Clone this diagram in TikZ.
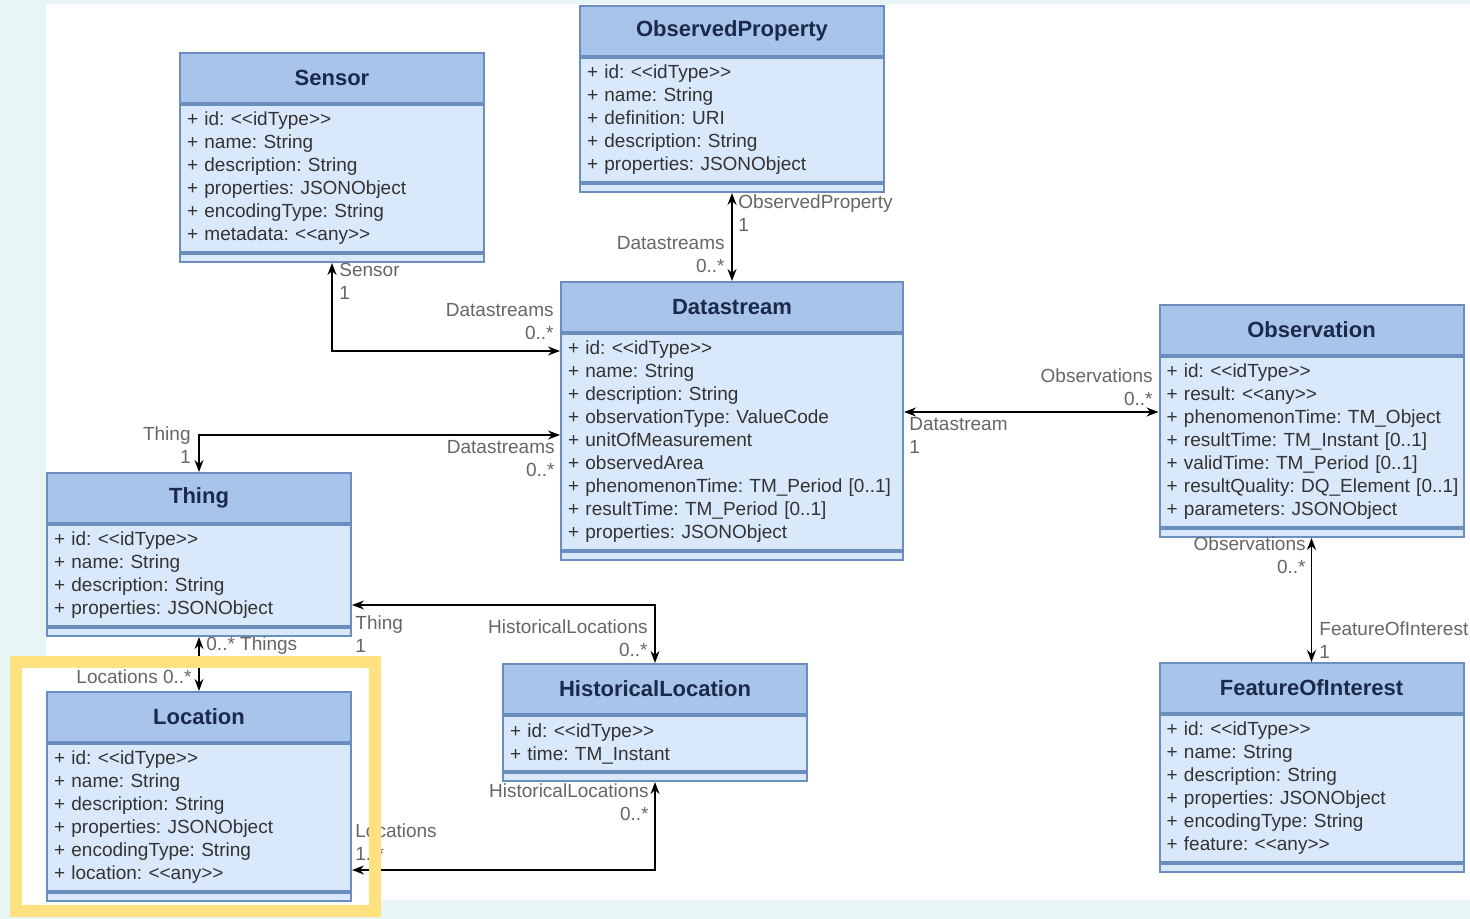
\documentclass[tikz,border=0pt]{standalone}
\usepackage{fontspec}
\setmainfont{Liberation Sans}
\frenchspacing
\usetikzlibrary{positioning}
\usetikzlibrary {arrows.meta}
\definecolor{pagecyan}{HTML}{E8F5F6}
\definecolor{headblue}{HTML}{A9C4EB}
\definecolor{bodyblue}{HTML}{DAE8FC}
\definecolor{lineblue}{HTML}{6C8EBF}
\definecolor{titlenavy}{HTML}{1B2A4A}
\definecolor{attrgray}{HTML}{333333}
\definecolor{labelgray}{HTML}{666666}
\definecolor{markyellow}{HTML}{FFE17F}
\newcommand\ltlt{<\kern0pt<}
\newcommand\gtgt{>\kern0pt>}
\tikzset{umlhead/.style={rectangle,draw=lineblue,fill=headblue,line width=1pt,
inner sep=0pt,minimum height=25pt, minimum width=152pt,text=titlenavy,
font=\fontsize{11}{13}\selectfont\bfseries}}
\tikzset{umlbody/.style={rectangle,draw=lineblue,fill=bodyblue,line width=1pt,
inner xsep=3.5pt,inner ysep=2pt,text width=145pt,align=left,text=attrgray,
minimum height={#1*11.5pt+4.5pt},font=\fontsize{9.5}{11.5}\selectfont}}
\tikzset{umlfoot/.style={rectangle,draw=lineblue,fill=bodyblue,line width=1pt,
inner sep=0pt,minimum height=4pt, minimum width=152pt}}
\tikzset{wide/.style={minimum width=171pt}}
\tikzset{widebody/.style={text width=164pt}}
\tikzset{lbl/.style={inner sep=0pt,text=labelgray,font=\fontsize{9.5}{11.5}\selectfont}}
\tikzset{assoc/.style={line width=0.75pt,{Stealth[length=6pt,width=4.5pt]}-{Stealth[length=6pt,width=4.5pt]}}}

\begin{document}
\begin{tikzpicture}[x=0.5pt,y=-0.5pt]
        \useasboundingbox (0,0) rectangle (1470,919);
        \fill[pagecyan] (0,0) rectangle (1470,919);
        \fill[white] (46,4) rectangle (1470,900);
        \fill[white] (10,656) rectangle (381,917);

        % classes
        \node[umlhead,anchor=north] (sensorHead) at (332,52) {Sensor};
        \node[umlbody=6] (sensorBody) [below=0pt of sensorHead] {+ id: \ltlt idType\gtgt\\+ name: String\\+ description: String\\+ properties: JSONObject\\+ encodingType: String\\+ metadata: \ltlt any\gtgt};
        \node[umlfoot] (sensorFoot) [below=0pt of sensorBody] {};

        \node[umlhead,anchor=north] (opHead) at (732,5) {ObservedProperty};
        \node[umlbody=5] (opBody) [below=0pt of opHead] {+ id: \ltlt idType\gtgt\\+ name: String\\+ definition: URI\\+ description: String\\+ properties: JSONObject};
        \node[umlfoot] (opFoot) [below=0pt of opBody] {};

        \node[umlhead,wide,anchor=north] (dsHead) at (732,281) {Datastream};
        \node[umlbody=9,wide,widebody] (dsBody) [below=0pt of dsHead] {+ id: \ltlt idType\gtgt\\+ name: String\\+ description: String\\+ observationType: ValueCode\\+ unitOfMeasurement\\+ observedArea\\+ phenomenonTime: TM\_Period [0..1]\\+ resultTime: TM\_Period [0..1]\\+ properties: JSONObject};
        \node[umlfoot,wide] (dsFoot) [below=0pt of dsBody] {};

        \node[umlhead,anchor=north] (obsHead) at (1311.5,304) {Observation};
        \node[umlbody=7] (obsBody) [below=0pt of obsHead] {+ id: \ltlt idType\gtgt\\+ result: \ltlt any\gtgt\\+ phenomenonTime: TM\_Object\\+ resultTime: TM\_Instant [0..1]\\+ validTime: TM\_Period [0..1]\\\mbox{+ resultQuality: DQ\_Element [0..1]}\\+ parameters: JSONObject};
        \node[umlfoot] (obsFoot) [below=0pt of obsBody] {};

        \node[umlhead,anchor=north] (thingHead) at (199,472) {Thing};
        \node[umlbody=4] (thingBody) [below=0pt of thingHead] {+ id: \ltlt idType\gtgt\\+ name: String\\+ description: String\\+ properties: JSONObject};
        \node[umlfoot] (thingFoot) [below=0pt of thingBody] {};

        \node[umlhead,anchor=north] (locHead) at (199,691) {Location};
        \node[umlbody=6] (locBody) [below=0pt of locHead] {+ id: \ltlt idType\gtgt\\+ name: String\\+ description: String\\+ properties: JSONObject\\+ encodingType: String\\+ location: \ltlt any\gtgt};
        \node[umlfoot] (locFoot) [below=0pt of locBody] {};

        \node[umlhead,anchor=north] (hlHead) at (655,663) {HistoricalLocation};
        \node[umlbody=2] (hlBody) [below=0pt of hlHead] {+ id: \ltlt idType\gtgt\\+ time: TM\_Instant};
        \node[umlfoot] (hlFoot) [below=0pt of hlBody] {};

        \node[umlhead,anchor=north] (foiHead) at (1311.5,662) {FeatureOfInterest};
        \node[umlbody=6] (foiBody) [below=0pt of foiHead] {+ id: \ltlt idType\gtgt\\+ name: String\\+ description: String\\+ properties: JSONObject\\+ encodingType: String\\+ feature: \ltlt any\gtgt};
        \node[umlfoot] (foiFoot) [below=0pt of foiBody] {};

        % associations
        \coordinate (dsSensor) at ([yshift=-9pt]dsBody.north west);
        \coordinate (dsThing) at ([yshift=-51pt]dsBody.north west);
        \coordinate (dsObs) at ([yshift=-39.5pt]dsBody.north east);
        \coordinate (thingHl) at ([yshift=-40.5pt]thingBody.north east);
        \coordinate (locHl) at ([yshift=-63.5pt]locBody.north east);
        \draw[assoc] (sensorFoot.south) |- (dsSensor);
        \draw[assoc] (opFoot.south) -- (dsHead.north);
        \draw[assoc] (thingHead.north) |- (dsThing);
        \draw[assoc] (dsObs) -- (dsObs -| obsBody.west);
        \draw[assoc] (obsFoot.south) -- (foiHead.north);
        \draw[assoc] (thingFoot.south) -- (locHead.north);
        \draw[assoc] (hlHead.north) |- (thingHl);
        \draw[assoc] (hlFoot.south) |- (locHl);

        % role names
        \node[lbl,align=left,anchor=north west] (sensorEnd) at (339,263) {Sensor\\1};
        \node[lbl,align=right,anchor=north east] (sensorDs) at (554,303) {Datastreams\\0..*};
        \node[lbl,align=left,anchor=north west] (opEnd) at (738,194) {ObservedProperty\\1};
        \node[lbl,align=right,anchor=north east] (opDs) at (725,236) {Datastreams\\0..*};
        \node[lbl,align=right,anchor=north east] (thingEnd) at (191,426) {Thing\\1};
        \node[lbl,align=right,anchor=north east] (thingDs) at (555,440) {Datastreams\\0..*};
        \node[lbl,align=right,anchor=north east] (dsObsEnd) at (1153,368) {Observations\\0..*};
        \node[lbl,align=left,anchor=north west] (dsEnd) at (909,417) {Datastream\\1};
        \node[lbl,align=right,anchor=north east] (foiObs) at (1306,536) {Observations\\0..*};
        \node[lbl,align=left,anchor=north west] (foiEnd) at (1319,621) {FeatureOfInterest\\1};
        \node[lbl,anchor=north west] (locThings) at (206,636) {0..* Things};
        \node[lbl,anchor=north east] (thingLocs) at (192,669) {Locations 0..*};
        \node[lbl,align=left,anchor=north west] (hlThing) at (355,615) {Thing\\1};
        \node[lbl,align=right,anchor=north east] (thingHls) at (648,619) {HistoricalLocations\\0..*};
        \node[lbl,align=right,anchor=north east] (locHls) at (649,783) {HistoricalLocations\\0..*};
        \node[lbl,align=left,anchor=north west] (hlLocs) at (355,823) {Locations\\1..*};

        \draw[markyellow,line width=6pt] (16,662) rectangle (375,911);
    \end{tikzpicture}
\end{document}
